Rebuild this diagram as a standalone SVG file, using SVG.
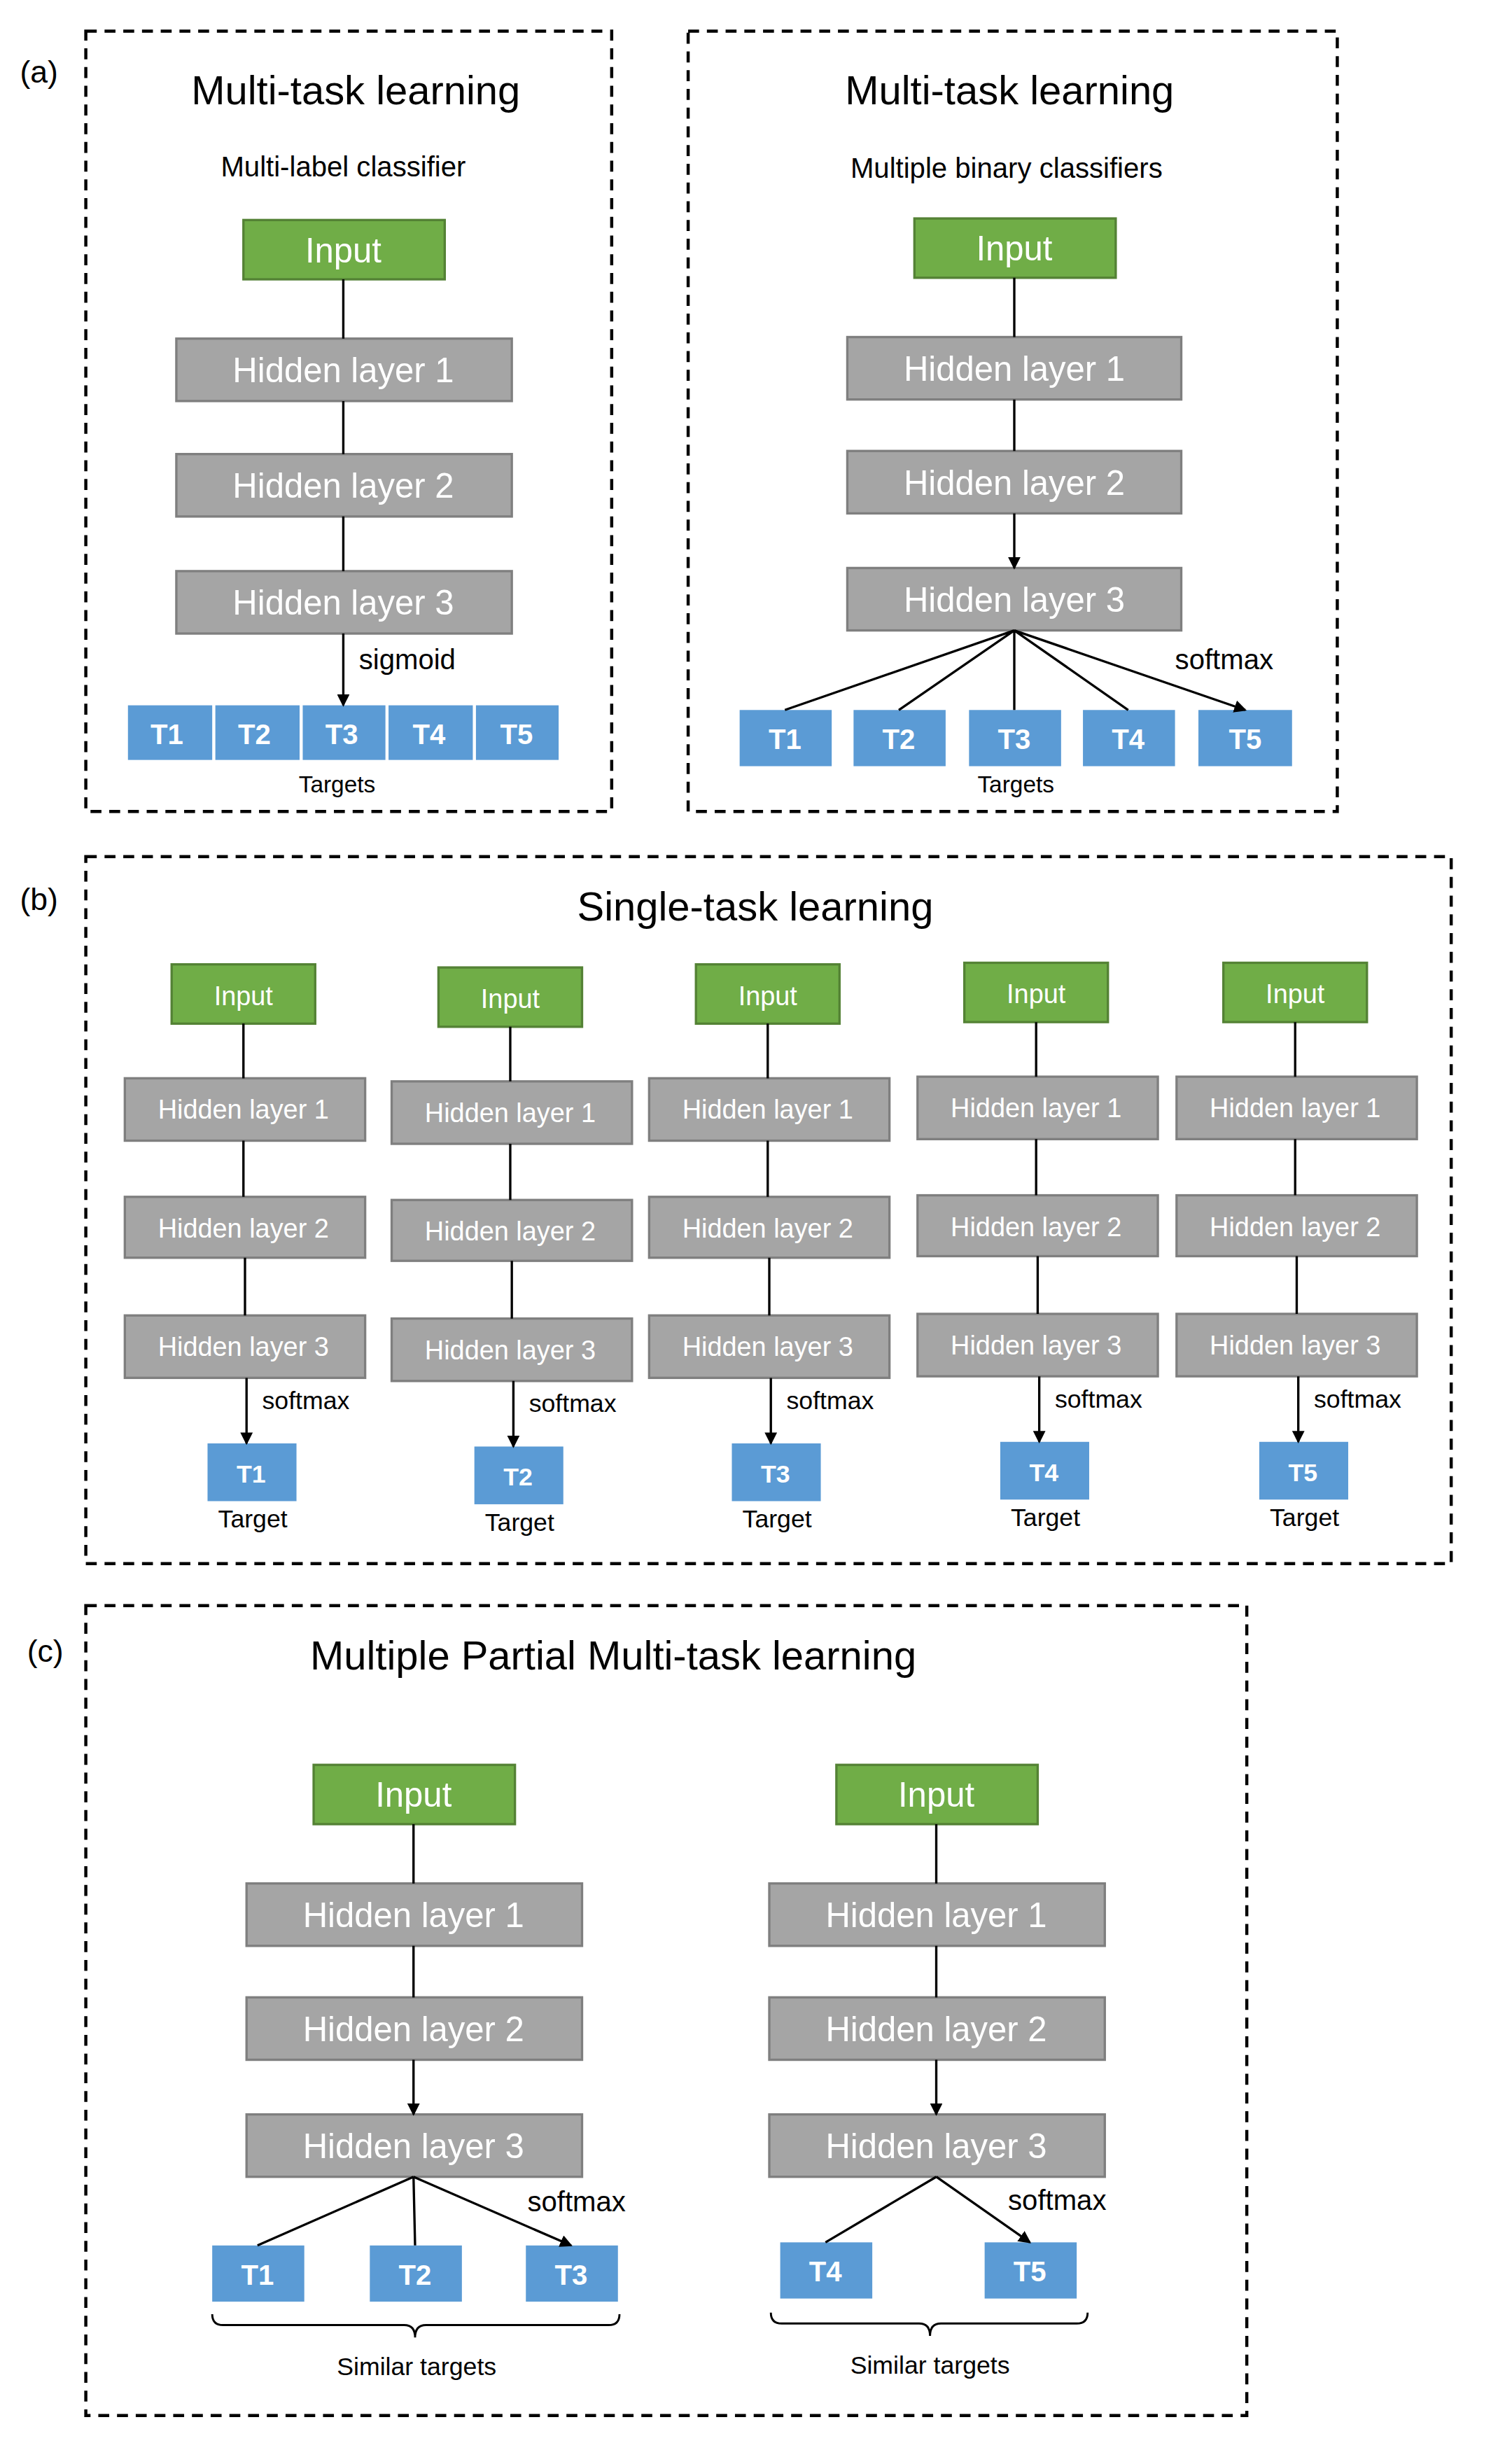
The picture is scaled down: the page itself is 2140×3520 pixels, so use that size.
<svg xmlns="http://www.w3.org/2000/svg" width="2140" height="3520" viewBox="0 0 2140 3520">
<style>
text{font-family:"Liberation Sans",Arial,sans-serif;text-anchor:middle;fill:#000}
.fr{fill:none;stroke:#000;stroke-width:2;stroke-dasharray:7,5}
.in{fill:#70ad47;stroke:#548235;stroke-width:1.5}
.hl{fill:#a5a5a5;stroke:#7f7f7f;stroke-width:1.5}
.tg{fill:#5b9bd5}
.wt{fill:#fff}
.tt{fill:#fff;font-weight:bold}
.ar{stroke:#000;stroke-width:1.5;fill:none;marker-end:url(#ah)}
.br{stroke:#000;stroke-width:1.3;fill:none}
</style>
<defs><marker id="ah" markerWidth="8" markerHeight="8" refX="7" refY="4" orient="auto" markerUnits="userSpaceOnUse"><path d="M0,0L8,4L0,8z" fill="#000"/></marker></defs>
<rect width="2140" height="3520" fill="#fff"/>
<g transform="scale(2.2292)">
<g id="frames">
<rect class="fr" x="55" y="20" width="337" height="500"/>
<rect class="fr" x="441" y="20" width="416" height="500"/>
<rect class="fr" x="55" y="549" width="875" height="453"/>
<rect class="fr" x="55" y="1029" width="744" height="519"/>
<text x="25" y="53" font-size="20">(a)</text>
<text x="25" y="583" font-size="20">(b)</text>
<text x="29" y="1065" font-size="20">(c)</text>
</g>
<g id="a1">
<text x="228" y="67" font-size="26">Multi-task learning</text>
<text x="220" y="113" font-size="18">Multi-label classifier</text>
<rect class="in" x="156" y="141" width="129" height="38"/><text class="wt" x="220" y="168" font-size="22">Input</text>
<rect class="hl" x="113" y="217" width="215" height="40"/><text class="wt" x="220" y="245" font-size="22">Hidden layer 1</text>
<rect class="hl" x="113" y="291" width="215" height="40"/><text class="wt" x="220" y="319" font-size="22">Hidden layer 2</text>
<rect class="hl" x="113" y="366" width="215" height="40"/><text class="wt" x="220" y="394" font-size="22">Hidden layer 3</text>
<text x="230" y="429" font-size="18" style="text-anchor:start">sigmoid</text>
<rect class="tg" x="82" y="452" width="54" height="35"/><text class="tt" x="107" y="477" font-size="18">T1</text>
<rect class="tg" x="138" y="452" width="54" height="35"/><text class="tt" x="163" y="477" font-size="18">T2</text>
<rect class="tg" x="194" y="452" width="53" height="35"/><text class="tt" x="219" y="477" font-size="18">T3</text>
<rect class="tg" x="249" y="452" width="54" height="35"/><text class="tt" x="275" y="477" font-size="18">T4</text>
<rect class="tg" x="305" y="452" width="53" height="35"/><text class="tt" x="331" y="477" font-size="18">T5</text>
<text x="216" y="508" font-size="15">Targets</text>
</g>
<g id="a2">
<text x="647" y="67" font-size="26">Multi-task learning</text>
<text x="645" y="114" font-size="18">Multiple binary classifiers</text>
<rect class="in" x="586" y="140" width="129" height="38"/><text class="wt" x="650" y="167" font-size="22">Input</text>
<rect class="hl" x="543" y="216" width="214" height="40"/><text class="wt" x="650" y="244" font-size="22">Hidden layer 1</text>
<rect class="hl" x="543" y="289" width="214" height="40"/><text class="wt" x="650" y="317" font-size="22">Hidden layer 2</text>
<rect class="hl" x="543" y="364" width="214" height="40"/><text class="wt" x="650" y="392" font-size="22">Hidden layer 3</text>
<text x="753" y="429" font-size="18" style="text-anchor:start">softmax</text>
<rect class="tg" x="474" y="455" width="59" height="36"/><text class="tt" x="503" y="480" font-size="18">T1</text>
<rect class="tg" x="547" y="455" width="59" height="36"/><text class="tt" x="576" y="480" font-size="18">T2</text>
<rect class="tg" x="621" y="455" width="59" height="36"/><text class="tt" x="650" y="480" font-size="18">T3</text>
<rect class="tg" x="694" y="455" width="59" height="36"/><text class="tt" x="723" y="480" font-size="18">T4</text>
<rect class="tg" x="768" y="455" width="60" height="36"/><text class="tt" x="798" y="480" font-size="18">T5</text>
<text x="651" y="508" font-size="15">Targets</text>
</g>
<g id="b">
<text x="484" y="590" font-size="26">Single-task learning</text>
</g>
<g id="b1" transform="translate(0,0)">
<rect class="in" x="110" y="618" width="92" height="38"/><text class="wt" x="156" y="644" font-size="17">Input</text>
<rect class="hl" x="80" y="691" width="154" height="40"/><text class="wt" x="156" y="717" font-size="17">Hidden layer 1</text>
<rect class="hl" x="80" y="767" width="154" height="39"/><text class="wt" x="156" y="793" font-size="17">Hidden layer 2</text>
<rect class="hl" x="80" y="843" width="154" height="40"/><text class="wt" x="156" y="869" font-size="17">Hidden layer 3</text>
<text x="168" y="903" font-size="16" style="text-anchor:start">softmax</text>
<rect class="tg" x="133" y="925" width="57" height="37"/><text class="tt" x="161" y="950" font-size="16">T1</text>
<text x="162" y="979" font-size="16">Target</text>
</g>
<g id="b2" transform="translate(171,2)">
<rect class="in" x="110" y="618" width="92" height="38"/><text class="wt" x="156" y="644" font-size="17">Input</text>
<rect class="hl" x="80" y="691" width="154" height="40"/><text class="wt" x="156" y="717" font-size="17">Hidden layer 1</text>
<rect class="hl" x="80" y="767" width="154" height="39"/><text class="wt" x="156" y="793" font-size="17">Hidden layer 2</text>
<rect class="hl" x="80" y="843" width="154" height="40"/><text class="wt" x="156" y="869" font-size="17">Hidden layer 3</text>
<text x="168" y="903" font-size="16" style="text-anchor:start">softmax</text>
<rect class="tg" x="133" y="925" width="57" height="37"/><text class="tt" x="161" y="950" font-size="16">T2</text>
<text x="162" y="979" font-size="16">Target</text>
</g>
<g id="b3" transform="translate(336,0)">
<rect class="in" x="110" y="618" width="92" height="38"/><text class="wt" x="156" y="644" font-size="17">Input</text>
<rect class="hl" x="80" y="691" width="154" height="40"/><text class="wt" x="156" y="717" font-size="17">Hidden layer 1</text>
<rect class="hl" x="80" y="767" width="154" height="39"/><text class="wt" x="156" y="793" font-size="17">Hidden layer 2</text>
<rect class="hl" x="80" y="843" width="154" height="40"/><text class="wt" x="156" y="869" font-size="17">Hidden layer 3</text>
<text x="168" y="903" font-size="16" style="text-anchor:start">softmax</text>
<rect class="tg" x="133" y="925" width="57" height="37"/><text class="tt" x="161" y="950" font-size="16">T3</text>
<text x="162" y="979" font-size="16">Target</text>
</g>
<g id="b4" transform="translate(508,-1)">
<rect class="in" x="110" y="618" width="92" height="38"/><text class="wt" x="156" y="644" font-size="17">Input</text>
<rect class="hl" x="80" y="691" width="154" height="40"/><text class="wt" x="156" y="717" font-size="17">Hidden layer 1</text>
<rect class="hl" x="80" y="767" width="154" height="39"/><text class="wt" x="156" y="793" font-size="17">Hidden layer 2</text>
<rect class="hl" x="80" y="843" width="154" height="40"/><text class="wt" x="156" y="869" font-size="17">Hidden layer 3</text>
<text x="168" y="903" font-size="16" style="text-anchor:start">softmax</text>
<rect class="tg" x="133" y="925" width="57" height="37"/><text class="tt" x="161" y="950" font-size="16">T4</text>
<text x="162" y="979" font-size="16">Target</text>
</g>
<g id="b5" transform="translate(674,-1)">
<rect class="in" x="110" y="618" width="92" height="38"/><text class="wt" x="156" y="644" font-size="17">Input</text>
<rect class="hl" x="80" y="691" width="154" height="40"/><text class="wt" x="156" y="717" font-size="17">Hidden layer 1</text>
<rect class="hl" x="80" y="767" width="154" height="39"/><text class="wt" x="156" y="793" font-size="17">Hidden layer 2</text>
<rect class="hl" x="80" y="843" width="154" height="40"/><text class="wt" x="156" y="869" font-size="17">Hidden layer 3</text>
<text x="168" y="903" font-size="16" style="text-anchor:start">softmax</text>
<rect class="tg" x="133" y="925" width="57" height="37"/><text class="tt" x="161" y="950" font-size="16">T5</text>
<text x="162" y="979" font-size="16">Target</text>
</g>
<g id="c">
<text x="393" y="1070" font-size="26">Multiple Partial Multi-task learning</text>
</g>
<g id="c1">
<rect class="in" x="201" y="1131" width="129" height="38"/><text class="wt" x="265" y="1158" font-size="22">Input</text>
<rect class="hl" x="158" y="1207" width="215" height="40"/><text class="wt" x="265" y="1235" font-size="22">Hidden layer 1</text>
<rect class="hl" x="158" y="1280" width="215" height="40"/><text class="wt" x="265" y="1308" font-size="22">Hidden layer 2</text>
<rect class="hl" x="158" y="1355" width="215" height="40"/><text class="wt" x="265" y="1383" font-size="22">Hidden layer 3</text>
<text x="338" y="1417" font-size="18" style="text-anchor:start">softmax</text>
<rect class="tg" x="136" y="1439" width="59" height="36"/><text class="tt" x="165" y="1464" font-size="18">T1</text>
<rect class="tg" x="237" y="1439" width="59" height="36"/><text class="tt" x="266" y="1464" font-size="18">T2</text>
<rect class="tg" x="337" y="1439" width="59" height="36"/><text class="tt" x="366" y="1464" font-size="18">T3</text>
<path class="br" d="M136,1483 Q136,1490 143,1490 L259,1490 Q266,1490 266,1498 Q266,1490 273,1490 L390,1490 Q397,1490 397,1483"/>
<text x="267" y="1522" font-size="16">Similar targets</text>
</g>
<g id="c2">
<rect class="in" x="536" y="1131" width="129" height="38"/><text class="wt" x="600" y="1158" font-size="22">Input</text>
<rect class="hl" x="493" y="1207" width="215" height="40"/><text class="wt" x="600" y="1235" font-size="22">Hidden layer 1</text>
<rect class="hl" x="493" y="1280" width="215" height="40"/><text class="wt" x="600" y="1308" font-size="22">Hidden layer 2</text>
<rect class="hl" x="493" y="1355" width="215" height="40"/><text class="wt" x="600" y="1383" font-size="22">Hidden layer 3</text>
<text x="646" y="1416" font-size="18" style="text-anchor:start">softmax</text>
<rect class="tg" x="500" y="1437" width="59" height="36"/><text class="tt" x="529" y="1462" font-size="18">T4</text>
<rect class="tg" x="631" y="1437" width="59" height="36"/><text class="tt" x="660" y="1462" font-size="18">T5</text>
<path class="br" d="M494,1482 Q494,1489 501,1489 L589,1489 Q596,1489 596,1497 Q596,1489 603,1489 L690,1489 Q697,1489 697,1482"/>
<text x="596" y="1521" font-size="16">Similar targets</text>
</g>
<g id="connectors">
<path class="ar" d="M220,179V217M220,257V291M220,331V366M220,406V452"/>
<path class="ar" d="M650,178V216M650,256V289M650,329V364"/>
<path class="ar" d="M650,404L503,455M650,404L576,455M650,404L650,455M650,404L723,455M650,404L798,455"/>
<path class="ar" d="M156,656V691M156,731V767M157,806V843M158,883V925"/>
<path class="ar" d="M327,658V693M327,733V769M328,808V845M329,885V927"/>
<path class="ar" d="M492,656V691M492,731V767M493,806V843M494,883V925"/>
<path class="ar" d="M664,655V690M664,730V766M665,805V842M666,882V924"/>
<path class="ar" d="M830,655V690M830,730V766M831,805V842M832,882V924"/>
<path class="ar" d="M265,1169V1207M265,1247V1280M265,1320V1355"/>
<path class="ar" d="M265,1395L165,1439M265,1395L266,1439M265,1395L366,1439"/>
<path class="ar" d="M600,1169V1207M600,1247V1280M600,1320V1355"/>
<path class="ar" d="M600,1395L529,1437M600,1395L660,1437"/>
</g>
</g>
</svg>
